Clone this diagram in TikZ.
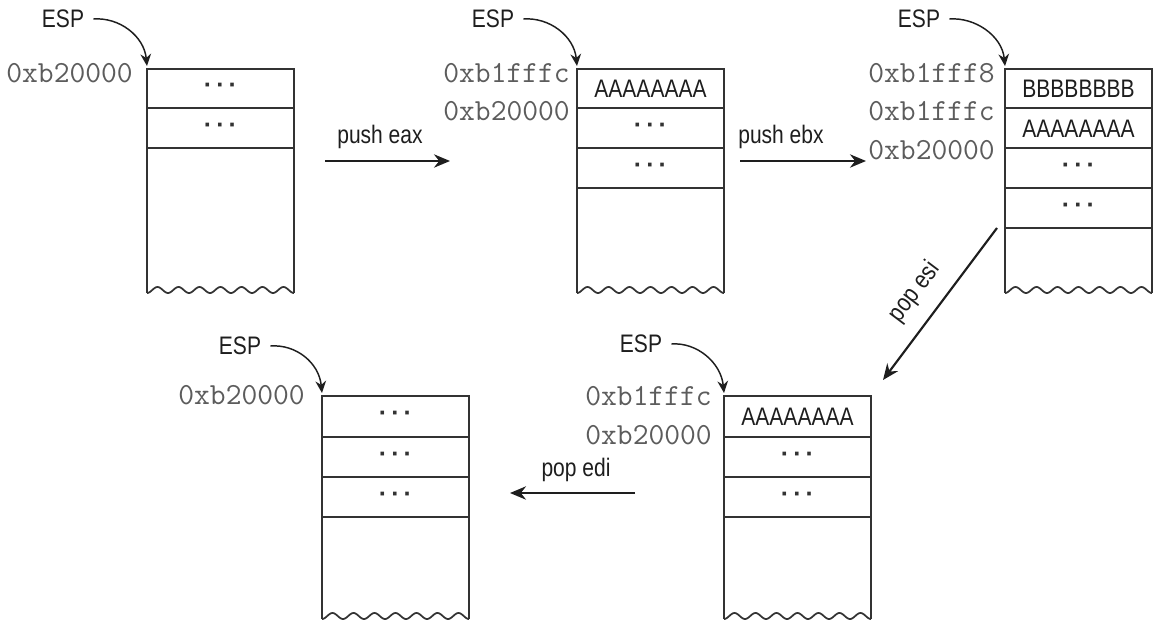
\documentclass[tikz,border=0pt]{standalone}
\usepackage{fontspec}
\setmainfont{Liberation Sans}
\newfontfamily\labfont[FakeStretch=0.83]{Liberation Sans}
\usetikzlibrary{arrows.meta,calc}
\definecolor{ink}{HTML}{1E1E1E}
\definecolor{addrcol}{HTML}{5C5C5C}
\definecolor{boxline}{HTML}{333333}

\newcommand\drawstack[4]{%
  \draw[stackline] (#1,#3) -- (#1,#2) -- ({#1+147},#2) -- ({#1+147},#3);
  \draw[stackline] plot[domain=0:147,samples=160] ({#1+\x},{#3-3+3*cos(\x*17.142857)});
  \foreach \yy in {#4} {\draw[stackline] (#1,\yy) -- ({#1+147},\yy);}
}
\newcommand\cellDots{\textbf{·\hspace{3pt}·\hspace{3pt}·}}

\begin{document}
\begin{tikzpicture}[x=0.75pt,y=-0.75pt,
  stackline/.style={draw=boxline, line width=1.3pt},
  lab/.style={font=\labfont\fontsize{19}{22}\selectfont, text=ink, inner sep=0pt},
  addrlab/.style={font=\ttfamily\fontsize{23}{26}\selectfont, text=addrcol, inner sep=0pt, anchor=base east},
  dotcell/.style={font=\fontsize{19}{22}\selectfont, text=boxline, inner sep=0pt},
  cell/.style={font=\labfont\fontsize{19}{22}\selectfont, text=ink, inner sep=0pt},
  espar/.style={draw=ink, line width=1.1pt, -{Stealth[length=9pt,width=8pt]}},
  oparrow/.style={draw=ink, line width=1.6pt, -{Stealth[length=12pt,width=10pt]}},
]
\useasboundingbox (0,0) rectangle (1158,628);

% ---------- stacks ----------
\drawstack{147}{69}{293}{108,148}
\drawstack{577}{69}{293}{108,148,188}
\drawstack{1005}{69}{293}{108,148,188,228}
\drawstack{724}{396}{619}{437,477,517}
\drawstack{322}{396}{619}{437,477,517}

\coordinate (s1tl) at (147,69);
\coordinate (s2tl) at (577,69);
\coordinate (s3tl) at (1005,69);
\coordinate (s4tl) at (724,396);
\coordinate (s5tl) at (322,396);

% ---------- cell contents ----------
\node[dotcell] (c11) at (220.5,88) {\cellDots};
\node[dotcell] (c12) at (220.5,128) {\cellDots};

\node[cell] (c21) at (650.5,89) {AAAAAAAA};
\node[dotcell] (c22) at (650.5,128) {\cellDots};
\node[dotcell] (c23) at (650.5,168) {\cellDots};

\node[cell] (c31) at (1078.5,89) {BBBBBBBB};
\node[cell] (c32) at (1078.5,129) {AAAAAAAA};
\node[dotcell] (c33) at (1078.5,168) {\cellDots};
\node[dotcell] (c34) at (1078.5,208) {\cellDots};

\node[cell] (c41) at (797.5,417) {AAAAAAAA};
\node[dotcell] (c42) at (797.5,457) {\cellDots};
\node[dotcell] (c43) at (797.5,497) {\cellDots};

\node[dotcell] (c51) at (395.5,416) {\cellDots};
\node[dotcell] (c52) at (395.5,457) {\cellDots};
\node[dotcell] (c53) at (395.5,497) {\cellDots};

% ---------- addresses ----------
\node[addrlab] (a11) at (133,82) {0xb20000};
\node[addrlab] (a21) at (570,82) {0xb1fffc};
\node[addrlab] (a22) at (570,120) {0xb20000};
\node[addrlab] (a31) at (995,82) {0xb1fff8};
\node[addrlab] (a32) at (995,120) {0xb1fffc};
\node[addrlab] (a33) at (995,159) {0xb20000};
\node[addrlab] (a41) at (712,405) {0xb1fffc};
\node[addrlab] (a42) at (712,444) {0xb20000};
\node[addrlab] (a51) at (305,404) {0xb20000};

% ---------- ESP pointers ----------
\node[lab] (esp1) at (63,19) {ESP};
\node[lab] (esp2) at (493,19) {ESP};
\node[lab] (esp3) at (919,19) {ESP};
\node[lab] (esp4) at (641,344) {ESP};
\node[lab] (esp5) at (240,346) {ESP};

\foreach \i in {1,...,5} {
  \draw[espar] ($(esp\i.east)+(9,0)$) .. controls +(26,-2) and +(-3,-30) .. ($(s\i tl)+(0,-3)$);
}

% ---------- operations ----------
\coordinate (op1s) at (325,161);
\coordinate (op1e) at (450,161);
\coordinate (op2s) at (740,161);
\coordinate (op2e) at (866,161);
\coordinate (op3s) at (997,228);
\coordinate (op3e) at (883,380);
\coordinate (op4s) at (635,493);
\coordinate (op4e) at (510,493);

\draw[oparrow] (op1s) -- (op1e);
\draw[oparrow] (op2s) -- (op2e);
\draw[oparrow] (op3s) -- (op3e);
\draw[oparrow] (op4s) -- (op4e);

\node[lab] (l1) at (380,137) {push eax};
\node[lab] (l2) at (781,137) {push ebx};
\node[lab, rotate=53] (l3) at (915,292) {pop esi};
\node[lab] (l4) at (576,470) {pop edi};
\end{tikzpicture}
\end{document}
